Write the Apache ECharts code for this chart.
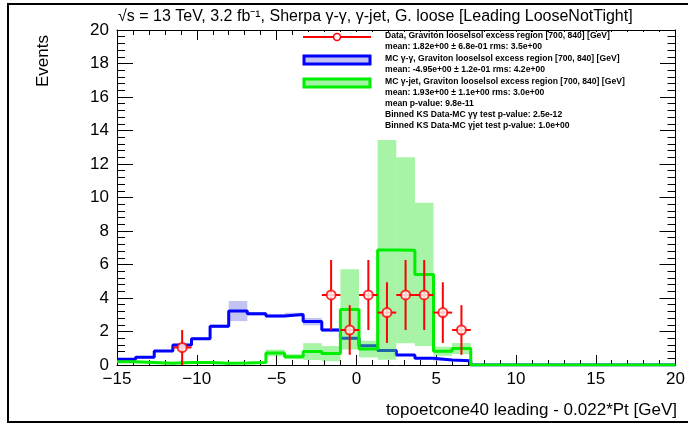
<!DOCTYPE html>
<html>
<head>
<meta charset="utf-8">
<script src="https://cdn.jsdelivr.net/npm/echarts@6/dist/echarts.min.js"></script>
<style>
html,body{margin:0;padding:0;background:#fff;}
#chart{width:688px;height:427px;}
</style>
</head>
<body>
<div id="chart"></div>
<script>
// ---- data ----
const xMin = -15, xMax = 20, nBins = 30;
const binEdges = Array.from({length: nBins + 1}, (_, k) => xMin + k * (xMax - xMin) / nBins);

const mcGammaGamma = [0.34, 0.46, 0.84, 1.19, 1.57, 2.31, 3.22, 3.06, 2.93, 3.02,
                      2.59, 2.09, 1.59, 1.15, 0.87, 0.60, 0.40, 0.30, 0.25, 0,
                      0, 0, 0, 0, 0, 0, 0, 0, 0, 0];
const mcGammaGammaErr = [0.05, 0.05, 0.06, 0.07, 0.08, 0.10, 0.60, 0.10, 0.10, 0.10,
                         0.22, 0.10, 0.08, 0.06, 0.05, 0.05, 0.04, 0.04, 0.03, 0,
                         0, 0, 0, 0, 0, 0, 0, 0, 0, 0];
const mcGammaJet = [0.20, 0.15, 0.10, 0.15, 0.15, 0.10, 0.12, 0.15, 0.72, 0.50,
                    0.80, 0.68, 3.32, 0.95, 6.87, 6.85, 5.41, 0.82, 0.98, 0,
                    0, 0, 0, 0, 0, 0, 0, 0, 0, 0];
const mcGammaJetErr = [0.05, 0.05, 0.05, 0.05, 0.05, 0.05, 0.05, 0.05, 0.20, 0.15,
                       0.50, 0.45, 2.39, 0.50, 6.56, 5.55, 4.28, 0.27, 0.33, 0,
                       0, 0, 0, 0, 0, 0, 0, 0, 0, 0];
const dataVals = [0, 0, 0, 1.045, 0, 0, 0, 0, 0, 0,
                  0, 4.18, 2.09, 4.18, 3.13, 4.18, 4.18, 3.13, 2.09, 0,
                  0, 0, 0, 0, 0, 0, 0, 0, 0, 0];
const dataErr = [0, 0, 0, 1.045, 0, 0, 0, 0, 0, 0,
                 0, 2.09, 1.48, 2.09, 1.81, 2.09, 2.09, 1.81, 1.48, 0,
                 0, 0, 0, 0, 0, 0, 0, 0, 0, 0];

const titleText = '\u221As = 13 TeV, 3.2 fb\u207B\u00B9, Sherpa \u03B3-\u03B3, \u03B3-jet, G. loose [Leading LooseNotTight]';
const legendLines = [
  'Data, Graviton looselsol excess region [700, 840] [GeV]',
  'mean: 1.82e+00 \u00B1 6.8e-01 rms: 3.5e+00',
  'MC \u03B3-\u03B3, Graviton looselsol excess region [700, 840] [GeV]',
  'mean: -4.95e+00 \u00B1 1.2e-01 rms: 4.2e+00',
  'MC \u03B3-jet, Graviton looselsol excess region [700, 840] [GeV]',
  'mean: 1.93e+00 \u00B1 1.1e+00 rms: 3.0e+00',
  'mean p-value: 9.8e-11',
  'Binned KS Data-MC \u03B3\u03B3 test p-value: 2.5e-12',
  'Binned KS Data-MC \u03B3jet test p-value: 1.0e+00'
];

// ---- helpers ----
function stepData(vals) {
  const d = vals.map((v, k) => [binEdges[k], v]);
  d.push([binEdges[nBins], vals[nBins - 1]]);
  return d;
}
function bandData(vals, errs) {
  const d = [];
  vals.forEach((v, k) => { if (errs[k] > 0) d.push([binEdges[k], binEdges[k + 1], v, errs[k]]); });
  return d;
}
function bandRender(color) {
  return function (params, api) {
    const p1 = api.coord([api.value(0), api.value(2) + api.value(3)]);
    const p2 = api.coord([api.value(1), Math.max(0, api.value(2) - api.value(3))]);
    return {type: 'rect', shape: {x: p1[0], y: p1[1], width: p2[0] - p1[0], height: p2[1] - p1[1]},
            style: {fill: color}};
  };
}
const pointData = [];
dataVals.forEach((v, k) => { if (v > 0) pointData.push([(binEdges[k] + binEdges[k + 1]) / 2, v, dataErr[k], binEdges[k], binEdges[k + 1]]); });

const fmt = v => (v < 0 ? '\u2212' + (-v) : String(v));
const FONT = 'Liberation Sans, Arial, sans-serif';

const chart = echarts.init(document.getElementById('chart'), null, {renderer: 'canvas'});

const legendGraphics = [];
const legendY = [37, 48, 59.5, 70.5, 82.5, 94, 105, 116, 127];
legendLines.forEach((t, i) => {
  legendGraphics.push({type: 'text', left: 385, top: legendY[i] - 5.5, z: 102,
    style: {text: t, font: 'bold 8.6px ' + FONT, fill: '#000'}});
});

const axLine = {show: true, onZero: false, lineStyle: {color: '#000', width: 1}};
const option = {
  animation: false,
  backgroundColor: '#fff',
  grid: {left: 117, right: 11, top: 30, bottom: 62, containLabel: false},
  xAxis: [{
    type: 'value', min: xMin, max: xMax, interval: 5,
    axisLine: axLine,
    axisTick: {show: true, inside: true, length: 10, lineStyle: {color: '#000'}},
    minorTick: {show: true, splitNumber: 5, length: 5, lineStyle: {color: '#000'}},
    splitLine: {show: false},
    axisLabel: {formatter: fmt, fontSize: 17, color: '#000', fontFamily: FONT, margin: 6}
  }, {
    type: 'value', position: 'top', min: xMin, max: xMax, interval: 5,
    axisLine: axLine,
    axisTick: {show: true, inside: true, length: 10, lineStyle: {color: '#000'}},
    minorTick: {show: true, splitNumber: 5, length: 5, lineStyle: {color: '#000'}},
    splitLine: {show: false}, axisLabel: {show: false}
  }],
  yAxis: [{
    type: 'value', min: 0, max: 20, interval: 2,
    axisLine: axLine,
    axisTick: {show: true, inside: true, length: 16, lineStyle: {color: '#000'}},
    minorTick: {show: true, splitNumber: 5, length: 8, lineStyle: {color: '#000'}},
    splitLine: {show: false},
    axisLabel: {fontSize: 17, color: '#000', fontFamily: FONT, margin: 8}
  }, {
    type: 'value', position: 'right', min: 0, max: 20, interval: 2,
    axisLine: axLine,
    axisTick: {show: true, inside: true, length: 16, lineStyle: {color: '#000'}},
    minorTick: {show: true, splitNumber: 5, length: 8, lineStyle: {color: '#000'}},
    splitLine: {show: false}, axisLabel: {show: false}
  }],
  series: [
    {type: 'custom', name: 'gg band', data: bandData(mcGammaGamma, mcGammaGammaErr),
     renderItem: bandRender('#c3c3f3'), encode: {x: [0, 1], y: 2}, z: 1, silent: true},
    {type: 'line', name: 'MC gg', data: stepData(mcGammaGamma), step: 'end', showSymbol: false,
     lineStyle: {color: '#0000ff', width: 3}, z: 2, silent: true},
    {type: 'custom', name: 'gj band', data: bandData(mcGammaJet, mcGammaJetErr),
     renderItem: bandRender('rgba(60,230,60,0.45)'), encode: {x: [0, 1], y: 2}, z: 3, silent: true},
    {type: 'line', name: 'MC gj', data: stepData(mcGammaJet), step: 'end', showSymbol: false,
     lineStyle: {color: '#00ee00', width: 3}, z: 4, silent: true},
    {type: 'custom', name: 'data err', data: pointData, encode: {x: 0, y: 1}, z: 5, silent: true,
     renderItem: function (params, api) {
       const x = api.value(0), y = api.value(1), e = api.value(2);
       const top = api.coord([x, y + e]), bot = api.coord([x, Math.max(0, y - e)]);
       const l = api.coord([api.value(3), y]), r = api.coord([api.value(4), y]);
       return {type: 'group', children: [
         {type: 'line', shape: {x1: top[0], y1: top[1], x2: bot[0], y2: bot[1]}, style: {stroke: '#ff0000', lineWidth: 2}},
         {type: 'line', shape: {x1: l[0], y1: l[1], x2: r[0], y2: r[1]}, style: {stroke: '#ff0000', lineWidth: 2}}
       ]};
     }},
    {type: 'scatter', name: 'Data', data: pointData.map(p => [p[0], p[1]]), symbol: 'circle', symbolSize: 9,
     itemStyle: {color: '#fff', borderColor: '#ff0000', borderWidth: 2}, z: 6, silent: true}
  ],
  graphic: [
    {type: 'rect', shape: {x: 8, y: 4, width: 700, height: 418}, style: {fill: null, stroke: '#000', lineWidth: 2}, silent: true},
    {type: 'text', left: 118, top: 9, style: {text: titleText, font: '16px ' + FONT, fill: '#000'}},
    {type: 'text', x: 43, y: 35, rotation: Math.PI / 2,
     style: {text: 'Events', font: '17px ' + FONT, fill: '#000', textAlign: 'right', textVerticalAlign: 'middle'}},
    {type: 'text', x: 677, y: 410,
     style: {text: 'topoetcone40 leading - 0.022*Pt [GeV]', font: '17px ' + FONT, fill: '#000', textAlign: 'right', textVerticalAlign: 'middle'}},
    // legend box (white, covers ticks) and swatches
    {type: 'rect', z: 100, shape: {x: 298, y: 32, width: 362, height: 102}, style: {fill: '#fff', stroke: null}},
    {type: 'line', z: 101, shape: {x1: 303, y1: 37, x2: 371, y2: 37}, style: {stroke: '#ff0000', lineWidth: 2}},
    {type: 'circle', z: 101, shape: {cx: 337, cy: 37, r: 3.5}, style: {fill: '#fff', stroke: '#ff0000', lineWidth: 1.5}},
    {type: 'rect', z: 101, shape: {x: 304, y: 56, width: 66, height: 8}, style: {fill: '#c3c3f3', stroke: '#0000ff', lineWidth: 3}},
    {type: 'rect', z: 101, shape: {x: 304, y: 79, width: 66, height: 8}, style: {fill: '#a0f5a0', stroke: '#00ee00', lineWidth: 3}}
  ].concat(legendGraphics)
};
chart.setOption(option);
</script>
</body>
</html>
